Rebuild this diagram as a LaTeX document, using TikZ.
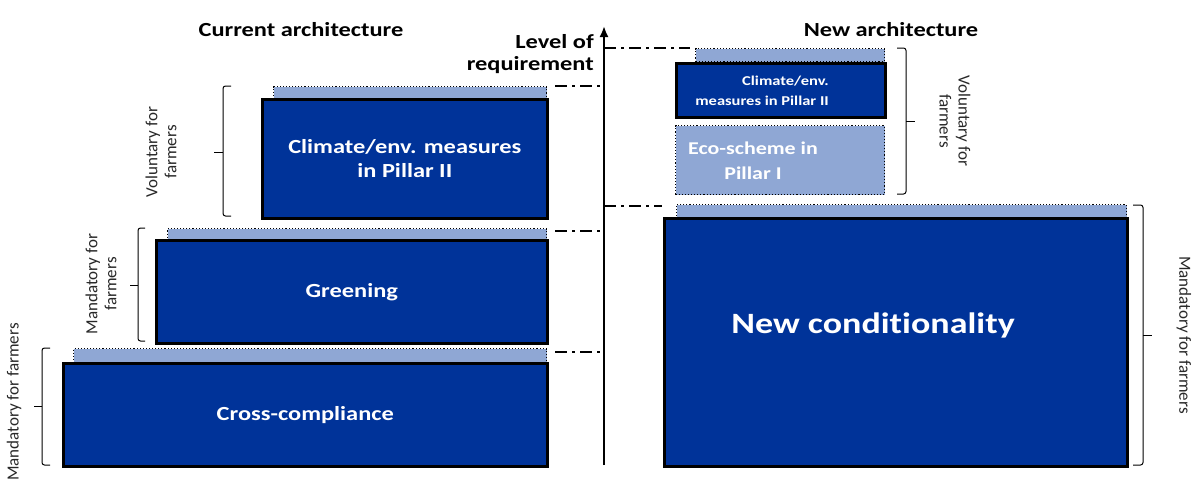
\documentclass[tikz,border=0pt]{standalone}
\usepackage{fontspec}
\setmainfont[FakeStretch=1.22,RawFeature=-liga]{Carlito}
\newfontfamily\rotfont{Carlito}
\usetikzlibrary{arrows.meta}
\definecolor{dblue}{RGB}{0,51,153}
\definecolor{lblue}{RGB}{143,167,212}
\definecolor{lbltxt}{RGB}{40,40,40}
\begin{document}
\begin{tikzpicture}[x=1pt,y=-1pt,
  darkbox/.style={draw=black, line width=2.6pt, fill=dblue, text=white, font=\bfseries, inner sep=0pt, anchor=north west, align=center},
  stripbox/.style={draw=black, dotted, line width=1.1pt, fill=lblue, inner sep=0pt, anchor=north west},
  ecobox/.style={draw=black, dotted, line width=1.1pt, fill=lblue, inner sep=0pt, anchor=north west},
  wtxt/.style={text=white, inner sep=0pt, align=center},
  dashdot/.style={line width=1.6pt, dash pattern=on 12pt off 5pt on 3pt off 5pt},
  brk/.style={draw=black, line width=1pt, rounded corners=2.5pt},
  brklbl/.style={text=lbltxt, font=\rotfont\fontsize{17}{19}\selectfont, align=center, inner sep=0pt},
  title/.style={font=\fontsize{20}{22}\selectfont\bfseries, inner sep=0pt}
]
\useasboundingbox[fill=white] (0,0) rectangle (1196,479);

% titles
\node[title] (tcur) at (301,30) {Current architecture};
\node[title] (tnew) at (891,30) {New architecture};
\node[title, align=right, anchor=east, font=\fontsize{20}{22}\selectfont\bfseries] (tlev) at (594,54) {Level of\\requirement};

% axis
\coordinate (axB) at (604,465);
\coordinate (axT) at (604,26);
\draw[line width=2pt, -{Latex[length=11pt,width=9pt]}] (axB) -- (axT);

% ---- current architecture ----
\node[stripbox, minimum width=473pt, minimum height=14pt] (ccS) at (73,348) {};
\node[darkbox, minimum width=484pt, minimum height=103pt, font=\fontsize{20}{24}\selectfont\bfseries] (cc) at (62,362) {Cross-compliance};

\node[stripbox, minimum width=379pt, minimum height=12pt] (grS) at (167,228) {};
\node[darkbox, minimum width=391pt, minimum height=103pt, font=\fontsize{20}{24}\selectfont\bfseries] (gr) at (155,239) {Greening};

\node[stripbox, minimum width=273pt, minimum height=13pt] (clS) at (273,86) {};
\node[darkbox, minimum width=285pt, minimum height=119pt, font=\fontsize{20}{24}\selectfont\bfseries] (cl) at (261,98) {Climate/env. measures\\in Pillar II};

% dash-dot level lines (left)
\coordinate (l1a) at (555,86);  \coordinate (l1b) at (604,86);
\coordinate (l2a) at (555,231); \coordinate (l2b) at (604,231);
\coordinate (l3a) at (555,352); \coordinate (l3b) at (604,352);
\draw[dashdot] (l1a) -- (l1b);
\draw[dashdot] (l2a) -- (l2b);
\draw[dashdot] (l3a) -- (l3b);

% brackets (left)
\draw[brk] (231,86) -- (223,86) -- (223,216) -- (231,216);
\draw[brk] (223,152) -- (214,152);
\draw[brk] (145,228) -- (138,228) -- (138,341) -- (145,341);
\draw[brk] (138,285) -- (130,285);
\draw[brk] (50,348) -- (42,348) -- (42,465) -- (50,465);
\draw[brk] (42,406) -- (34,406);

\node[brklbl, rotate=90] (lv1) at (161,152) {Voluntary for\\farmers};
\node[brklbl, rotate=90] (lm1) at (101,284) {Mandatory for\\farmers};
\node[brklbl, rotate=90] (lm2) at (14,402) {Mandatory for farmers};

% ---- new architecture ----
\node[stripbox, minimum width=189pt, minimum height=13pt] (ncS) at (695,48) {};
\node[darkbox, minimum width=209pt, minimum height=54pt] (nc) at (675,62) {};
\node[wtxt, font=\fontsize{13.5}{20}\selectfont\bfseries, align=right, anchor=east] (nctxt) at (829,91) {Climate/env.\\measures in Pillar II};

\node[ecobox, minimum width=209pt, minimum height=69pt] (eco) at (675,125) {};
\node[wtxt, font=\fontsize{18}{25}\selectfont\bfseries] (ecotxt) at (753,161) {Eco-scheme in\\Pillar I};

\node[stripbox, minimum width=450pt, minimum height=13pt] (ndS) at (676,204) {};
\node[darkbox, minimum width=463pt, minimum height=248pt] (nd) at (663,217) {};
\node[wtxt, font=\fontsize{29.5}{32}\selectfont\bfseries] (ndtxt) at (873,325) {New conditionality};

% dash-dot level lines (right)
\coordinate (r1a) at (604,48);  \coordinate (r1b) at (690,48);
\coordinate (r2a) at (604,206); \coordinate (r2b) at (662,206);
\draw[dashdot] (r1a) -- (r1b);
\draw[dashdot] (r2a) -- (r2b);

% brackets (right)
\draw[brk] (897,48) -- (906,48) -- (906,194) -- (897,194);
\draw[brk] (906,121) -- (915,121);
\draw[brk] (1133,205) -- (1143,205) -- (1143,465) -- (1133,465);
\draw[brk] (1143,335) -- (1152,335);

\node[brklbl, rotate=-90] (rv1) at (955,121) {Voluntary for\\farmers};
\node[brklbl, rotate=-90] (rm1) at (1184,335) {Mandatory for farmers};
\end{tikzpicture}
\end{document}
